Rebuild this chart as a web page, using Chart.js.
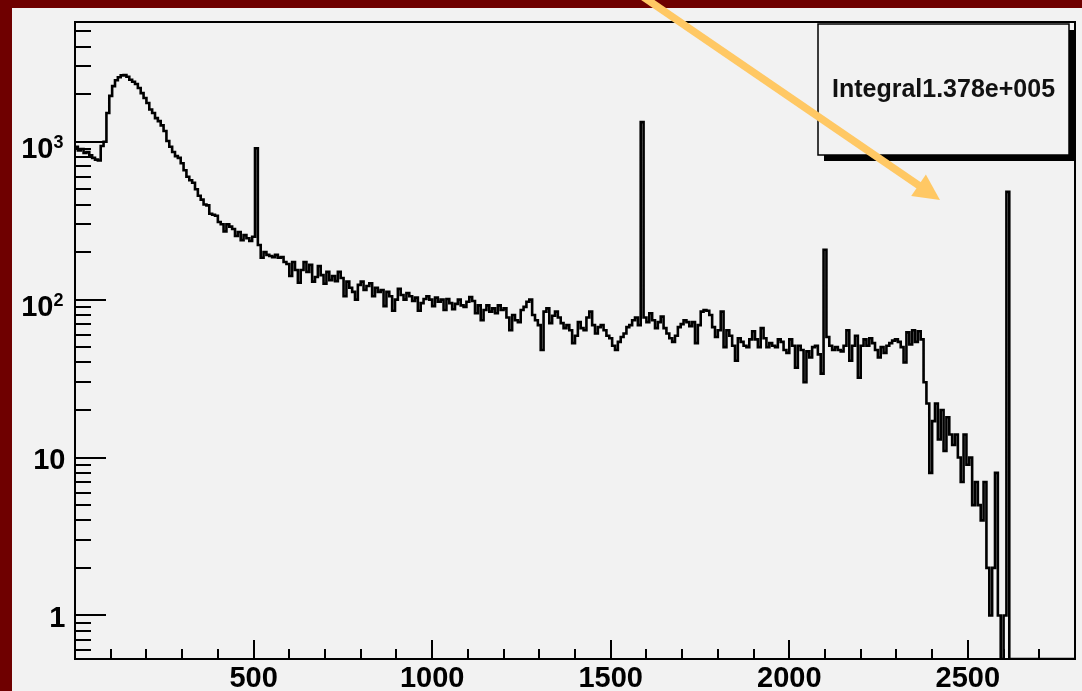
<!DOCTYPE html>
<html>
<head>
<meta charset="utf-8">
<title>Gamma spectrum</title>
<script src="https://cdn.jsdelivr.net/npm/chart.js@4.4.0/dist/chart.umd.min.js"></script>
<style>
  html, body { margin: 0; padding: 0; background: #6f0000; }
  canvas { display: block; }
</style>
</head>
<body>
<canvas id="spectrum" width="1082" height="691"></canvas>
<script>
// Histogram binning: 350 bins of 8 units covering 0 .. 2800
const binWidth = 8;
const xMin = 0;
const xMax = 2800;
const yMin = 0.53;
const yMax = 5730;

// Counts per bin, low-energy peak region (bins 0-62)
const countsPeak = [
  930, 880, 900, 850, 860, 820, 790, 770, 760, 940,
  1000, 1520, 1950, 2250, 2450, 2560, 2630, 2640, 2580, 2470,
  2400, 2320, 2190, 2030, 1890, 1760, 1600, 1520, 1410, 1350,
  1270, 1170, 1010, 930, 860, 810, 790, 730, 660, 600,
  570, 550, 500, 455, 430, 400, 395, 350, 345, 340,
  310, 300, 270, 300, 290, 280, 253, 268, 238, 256,
  245, 235, 250
];

// Bins 63-149 (bin 63 holds the 511 line)
const countsCompton = [
  910, 222, 184, 200, 192, 189, 186, 192, 184, 186,
  173, 168, 141, 173, 154, 128, 154, 173, 150, 166,
  130, 139, 163, 143, 126, 150, 133, 141, 131, 150,
  137, 105, 130, 119, 112, 100, 124, 130, 115, 122,
  127, 105, 119, 112, 115, 91, 112, 105, 85, 100,
  117, 107, 100, 110, 105, 98, 103, 85, 95, 101,
  105, 100, 91, 103, 97, 100, 86, 101, 95, 87,
  94, 100, 92, 90, 97, 104, 98, 82, 92, 74,
  86, 92, 84, 88, 82, 92, 86
];

// Bins 150-296 (lines at bins 198 and 262)
const countsPlateau = [
  88, 77, 64, 80, 74, 72, 86, 90, 97, 100,
  80, 74, 69, 48, 84, 88, 71, 79, 84, 77,
  71, 66, 69, 64, 53, 59, 72, 66, 64, 77,
  84, 69, 61, 67, 69, 64, 59, 57, 51, 48,
  54, 58, 61, 67, 69, 74, 77, 69, 1330, 77,
  72, 82, 74, 66, 72, 78, 66, 61, 57, 54,
  59, 67, 70, 74, 72, 68, 72, 53, 69, 84,
  86, 85, 80, 67, 58, 64, 84, 50, 64, 59,
  51, 41, 57, 54, 51, 50, 56, 63, 56, 50,
  66, 57, 50, 53, 51, 50, 56, 54, 48, 46,
  56, 51, 37, 51, 48, 30, 47, 43, 50, 51,
  45, 34, 207, 58, 51, 48, 50, 48, 47, 51,
  64, 41, 51, 59, 32, 51, 56, 51, 57, 53,
  48, 43, 50, 46, 51, 53, 55, 56, 54, 50,
  40, 62, 52, 64, 54, 63, 56
];

// Bins 297-349: falling edge, the line at bin 326, empty bins after it
const countsEdge = [
  30, 22, 8, 17, 22, 13, 20, 11, 18, 14,
  12, 14, 10, 7, 14, 9, 10, 5, 7, 5,
  4, 7, 2, 1, 2, 8, 1, 0, 1, 481,
  0, 0, 0, 0, 0, 0, 0, 0, 0, 0,
  0, 0, 0, 0, 0, 0, 0, 0, 0, 0,
  0, 0, 0
];

// Axis labels
const xTickValues = [500, 1000, 1500, 2000, 2500];
const yTickValues = [1, 10, 100, 1000];
const yTickBase = ['1', '10', '10', '10'];
const yTickExp = ['', '', '2', '3'];

// Statistics box text
const statName = 'Integral';
const statValue = '1.378e+005';

const counts = [].concat(countsPeak, countsCompton, countsPlateau, countsEdge);
// empty bins sit on the bottom of the log axis
const points = counts.map((v, i) => ({ x: xMin + i * binWidth, y: v > 0 ? v : yMin }));
points.push({ x: xMax, y: points[points.length - 1].y });

const FONT = '"Liberation Sans", Arial, Helvetica, sans-serif';

const rootStyle = {
  id: 'rootStyle',
  beforeDraw(chart) {
    const c = chart.ctx;
    c.save();
    c.fillStyle = '#6f0000';
    c.fillRect(0, 0, chart.width, chart.height);
    c.fillStyle = '#f2f2f2';
    c.fillRect(12, 8, chart.width - 12, chart.height - 8);
    c.restore();
  },
  afterDraw(chart) {
    const c = chart.ctx;
    const a = chart.chartArea;
    const xs = chart.scales.x;
    const ys = chart.scales.y;
    c.save();

    // frame
    c.strokeStyle = '#000';
    c.lineWidth = 2;
    c.beginPath();
    c.rect(a.left, a.top, a.right - a.left, a.bottom - a.top);
    c.stroke();

    // x ticks (inward)
    c.lineWidth = 2;
    c.beginPath();
    for (let v = xMin + 100; v <= xMax; v += 100) {
      const px = Math.round(xs.getPixelForValue(v));
      const len = v % 500 === 0 ? 19 : 10;
      c.moveTo(px, a.bottom);
      c.lineTo(px, a.bottom - len);
    }
    c.stroke();

    // y ticks (inward), log decades
    c.beginPath();
    for (let d = -1; d <= 3; d++) {
      for (let m = 1; m <= 9; m++) {
        const v = m * Math.pow(10, d);
        if (v < yMin || v > yMax) continue;
        const py = Math.round(ys.getPixelForValue(v));
        const len = m === 1 ? 31 : 16;
        c.moveTo(a.left, py);
        c.lineTo(a.left + len, py);
      }
    }
    c.stroke();

    // x labels
    c.fillStyle = '#000';
    c.font = 'bold 29px ' + FONT;
    c.textAlign = 'center';
    c.textBaseline = 'alphabetic';
    xTickValues.forEach(v => {
      c.fillText(String(v), xs.getPixelForValue(v), 687);
    });

    // y labels with superscript exponents
    c.textAlign = 'left';
    yTickValues.forEach((v, i) => {
      const py = ys.getPixelForValue(v);
      const base = yTickBase[i];
      const exp = yTickExp[i];
      c.font = 'bold 29px ' + FONT;
      const wb = c.measureText(base).width;
      c.font = 'bold 18px ' + FONT;
      const we = exp ? c.measureText(exp).width : 0;
      const right = exp ? 63.5 : 65.5;
      const x0 = right - wb - we;
      const baseLine = exp ? py + 16.5 : py + 11.5;
      c.font = 'bold 29px ' + FONT;
      c.fillText(base, x0, baseLine);
      if (exp) {
        c.font = 'bold 18px ' + FONT;
        c.fillText(exp, x0 + wb, baseLine - 10);
      }
    });

    // statistics box with shadow
    const bx = 818, by = 24, bw = 251, bh = 131;
    c.fillStyle = '#000';
    c.fillRect(bx + 6, by + 6, bw, bh);
    c.fillStyle = '#f2f2f2';
    c.fillRect(bx, by, bw, bh);
    c.strokeStyle = '#000';
    c.lineWidth = 1.5;
    c.strokeRect(bx, by, bw, bh);
    c.fillStyle = '#111';
    c.font = 'bold 25px ' + FONT;
    c.textAlign = 'center';
    c.fillText(statName + statValue, bx + bw / 2, 97);

    // annotation arrow
    const tail = { x: 639, y: -6 };
    const tip = { x: 940, y: 200 };
    const dx = tip.x - tail.x, dy = tip.y - tail.y;
    const L = Math.hypot(dx, dy);
    const ux = dx / L, uy = dy / L;
    const headLen = 26, headHalf = 13;
    const bxh = tip.x - ux * headLen, byh = tip.y - uy * headLen;
    c.strokeStyle = '#ffc864';
    c.fillStyle = '#ffc864';
    c.lineWidth = 7.5;
    c.lineCap = 'butt';
    c.beginPath();
    c.moveTo(tail.x, tail.y);
    c.lineTo(bxh + ux * 2, byh + uy * 2);
    c.stroke();
    c.beginPath();
    c.moveTo(tip.x, tip.y);
    c.lineTo(bxh - uy * headHalf, byh + ux * headHalf);
    c.lineTo(bxh + uy * headHalf, byh - ux * headHalf);
    c.closePath();
    c.fill();

    c.restore();
  }
};

new Chart(document.getElementById('spectrum'), {
  type: 'line',
  data: {
    datasets: [{
      data: points,
      stepped: true,
      borderColor: '#000',
      borderWidth: 2.6,
      borderJoinStyle: 'miter',
      pointRadius: 0,
      fill: false,
      tension: 0
    }]
  },
  options: {
    responsive: false,
    animation: false,
    devicePixelRatio: 1,
    layout: { padding: { left: 75, top: 22, right: 7, bottom: 32 } },
    plugins: { legend: { display: false }, tooltip: { enabled: false } },
    scales: {
      x: { type: 'linear', min: xMin, max: xMax, bounds: 'data', display: false },
      y: { type: 'logarithmic', min: yMin, max: yMax, bounds: 'data', display: false }
    }
  },
  plugins: [rootStyle]
});
</script>
</body>
</html>
